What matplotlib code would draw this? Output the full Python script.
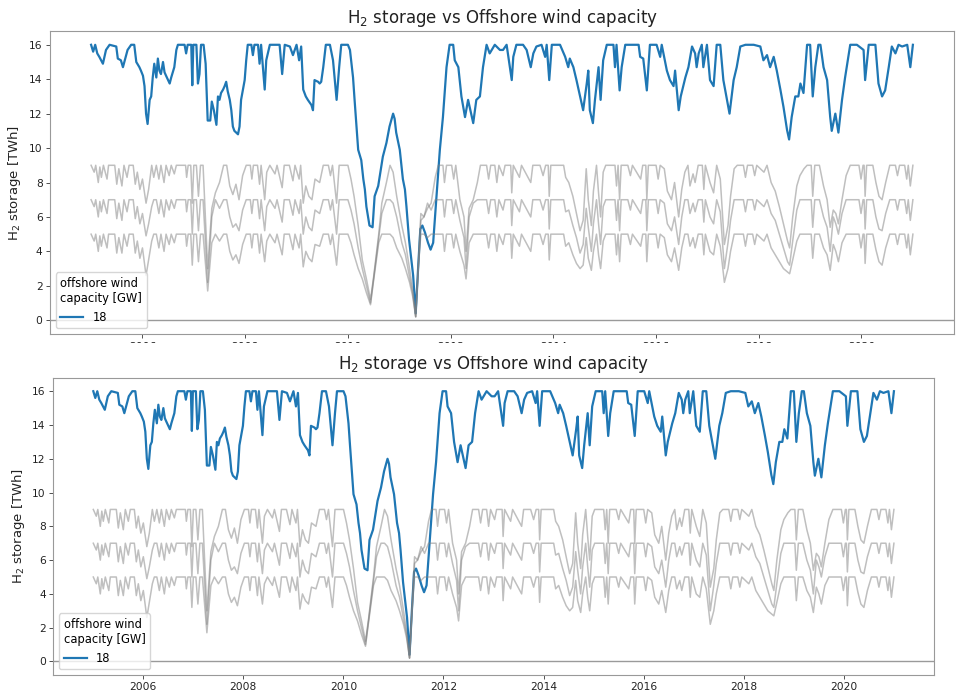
import numpy as np
import pandas as pd
import matplotlib
matplotlib.use("Agg")
import matplotlib.pyplot as plt
import matplotlib.dates as mdates
from matplotlib.patches import Rectangle

# H2 storage level [TWh] of the 18 GW offshore wind case, sampled at decimal years
blue_years = [
    2005.00, 2005.04, 2005.08, 2005.12, 2005.16, 2005.23, 2005.29, 2005.36, 2005.49, 2005.52,
    2005.58, 2005.62, 2005.71, 2005.78, 2005.84, 2005.88, 2005.94, 2005.97, 2006.01, 2006.04,
    2006.07, 2006.10, 2006.14, 2006.17, 2006.20, 2006.23, 2006.27, 2006.30, 2006.33, 2006.36,
    2006.40, 2006.43, 2006.46, 2006.53, 2006.56, 2006.62, 2006.66, 2006.69, 2006.82, 2006.85,
    2006.88, 2006.95, 2006.97, 2006.99, 2007.05, 2007.08, 2007.11, 2007.14, 2007.19, 2007.23,
    2007.27, 2007.32, 2007.35, 2007.39, 2007.44, 2007.47, 2007.50, 2007.53, 2007.57, 2007.60,
    2007.63, 2007.66, 2007.70, 2007.73, 2007.76, 2007.79, 2007.86, 2007.89, 2007.92, 2007.99,
    2008.02, 2008.05, 2008.12, 2008.15, 2008.18, 2008.25, 2008.28, 2008.31, 2008.38, 2008.41,
    2008.48, 2008.67, 2008.72, 2008.77, 2008.87, 2008.93, 2009.00, 2009.05, 2009.09, 2009.13,
    2009.18, 2009.22, 2009.29, 2009.32, 2009.35, 2009.42, 2009.45, 2009.48, 2009.52, 2009.57,
    2009.65, 2009.71, 2009.78, 2009.83, 2009.87, 2010.00, 2010.04, 2010.10, 2010.13, 2010.20,
    2010.23, 2010.26, 2010.30, 2010.33, 2010.36, 2010.42, 2010.48, 2010.52, 2010.59, 2010.68,
    2010.75, 2010.81, 2010.88, 2010.91, 2010.94, 2011.01, 2011.07, 2011.11, 2011.14, 2011.19,
    2011.24, 2011.27, 2011.32, 2011.37, 2011.41, 2011.45, 2011.50, 2011.56, 2011.61, 2011.66,
    2011.72, 2011.79, 2011.85, 2011.92, 2011.98, 2012.05, 2012.08, 2012.15, 2012.21, 2012.28,
    2012.34, 2012.44, 2012.50, 2012.57, 2012.63, 2012.70, 2012.76, 2012.86, 2012.96, 2013.02,
    2013.09, 2013.19, 2013.22, 2013.28, 2013.41, 2013.48, 2013.56, 2013.61, 2013.67, 2013.77,
    2013.84, 2013.87, 2013.92, 2013.97, 2014.13, 2014.23, 2014.29, 2014.32, 2014.39, 2014.45,
    2014.52, 2014.58, 2014.65, 2014.68, 2014.71, 2014.77, 2014.81, 2014.88, 2014.92, 2014.97,
    2015.04, 2015.17, 2015.20, 2015.23, 2015.29, 2015.33, 2015.40, 2015.66, 2015.69, 2015.75,
    2015.82, 2015.88, 2016.01, 2016.08, 2016.11, 2016.21, 2016.27, 2016.34, 2016.37, 2016.44,
    2016.48, 2016.57, 2016.63, 2016.70, 2016.76, 2016.79, 2016.83, 2016.89, 2016.92, 2016.99,
    2017.05, 2017.12, 2017.18, 2017.25, 2017.31, 2017.38, 2017.43, 2017.51, 2017.57, 2017.64,
    2017.74, 2017.90, 2018.03, 2018.09, 2018.16, 2018.22, 2018.29, 2018.35, 2018.42, 2018.48,
    2018.55, 2018.59, 2018.64, 2018.71, 2018.77, 2018.81, 2018.87, 2018.94, 2019.00, 2019.05,
    2019.10, 2019.16, 2019.20, 2019.26, 2019.33, 2019.39, 2019.42, 2019.49, 2019.55, 2019.62,
    2019.68, 2019.78, 2019.91, 2020.04, 2020.07, 2020.14, 2020.27, 2020.33, 2020.40, 2020.46,
    2020.53, 2020.59, 2020.66, 2020.72, 2020.79, 2020.89, 2020.95, 2021.00,
]
blue_storage = [
    16.0, 15.6, 16.0, 15.5, 15.3, 14.9, 15.7, 16.0, 15.9, 15.2,
    15.1, 14.7, 15.7, 16.0, 16.0, 15.0, 14.7, 14.5, 14.2, 13.6,
    12.0, 11.4, 12.8, 13.0, 14.1, 14.9, 14.1, 15.2, 14.5, 14.3,
    15.0, 14.4, 14.2, 13.75, 14.1, 14.7, 15.7, 16.0, 16.0, 15.5,
    16.0, 16.0, 13.65, 16.0, 16.0, 13.75, 14.3, 16.0, 16.0, 14.9,
    11.6, 11.6, 12.7, 12.2, 11.35, 13.0, 12.8, 13.2, 13.4, 13.6,
    13.85, 13.3, 12.8, 12.2, 11.25, 11.0, 10.8, 11.25, 12.8, 13.95,
    15.1, 16.0, 16.0, 15.4, 16.0, 16.0, 14.9, 16.0, 13.4, 15.1,
    16.0, 16.0, 14.3, 16.0, 15.9, 15.4, 16.0, 15.1, 15.9, 13.4,
    13.0, 12.8, 12.5, 12.2, 13.95, 13.85, 13.75, 13.85, 14.7, 16.0,
    16.0, 15.1, 12.8, 14.7, 16.0, 16.0, 15.7, 14.1, 12.8, 9.9,
    9.6, 9.3, 8.2, 7.6, 6.6, 5.5, 5.4, 7.2, 7.8, 9.5,
    10.3, 11.25, 12.0, 11.7, 10.9, 9.9, 8.2, 7.6, 6.6, 4.7,
    3.4, 2.6, 0.4, 3.2, 5.3, 5.5, 5.1, 4.5, 4.1, 4.5,
    7.0, 9.9, 11.8, 14.7, 16.0, 16.0, 15.1, 14.7, 13.0, 11.8,
    12.8, 11.45, 12.8, 13.0, 14.7, 16.0, 15.5, 16.0, 15.7, 15.7,
    16.0, 13.95, 15.3, 16.0, 16.0, 15.7, 14.7, 15.5, 15.9, 16.0,
    15.3, 16.0, 13.95, 16.0, 16.0, 15.3, 14.7, 15.2, 14.7, 13.95,
    13.0, 12.2, 13.75, 14.5, 12.2, 11.45, 12.8, 14.7, 12.8, 15.1,
    16.0, 16.0, 14.7, 16.0, 13.35, 14.7, 16.0, 16.0, 15.3, 15.2,
    13.35, 16.0, 16.0, 15.3, 16.0, 14.5, 13.95, 13.6, 14.5, 12.2,
    13.0, 14.1, 14.7, 15.9, 15.5, 14.7, 15.5, 16.0, 14.7, 16.0,
    13.95, 13.6, 16.0, 16.0, 13.95, 12.8, 12.0, 13.95, 14.7, 15.9,
    16.0, 16.0, 15.9, 15.1, 15.4, 14.7, 15.3, 14.5, 13.4, 12.4,
    11.05, 10.5, 11.8, 13.0, 13.0, 13.75, 13.2, 16.0, 16.0, 13.0,
    14.7, 16.0, 16.0, 14.7, 13.95, 11.8, 11.0, 12.0, 10.9, 12.8,
    14.1, 16.0, 16.0, 15.7, 13.95, 16.0, 16.0, 13.75, 13.0, 13.35,
    14.7, 15.9, 15.5, 16.0, 15.9, 16.0, 14.7, 16.0,
]

# storage levels of the other capacity cases (9, 7 and 5 TWh caps), shared time axis
gray_years = [
    2005.00, 2005.06, 2005.09, 2005.14, 2005.17, 2005.20, 2005.24, 2005.31, 2005.34, 2005.46,
    2005.50, 2005.54, 2005.60, 2005.64, 2005.70, 2005.74, 2005.82, 2005.86, 2005.90, 2005.95,
    2006.00, 2006.07, 2006.12, 2006.18, 2006.22, 2006.27, 2006.32, 2006.36, 2006.42, 2006.46,
    2006.52, 2006.56, 2006.62, 2006.66, 2006.84, 2006.86, 2006.89, 2006.94, 2006.97, 2007.00,
    2007.05, 2007.09, 2007.13, 2007.18, 2007.27, 2007.35, 2007.42, 2007.50, 2007.58, 2007.64,
    2007.70, 2007.76, 2007.82, 2007.88, 2007.95, 2008.02, 2008.10, 2008.13, 2008.16, 2008.24,
    2008.28, 2008.31, 2008.38, 2008.42, 2008.48, 2008.58, 2008.62, 2008.72, 2008.76, 2008.86,
    2008.93, 2008.97, 2009.05, 2009.08, 2009.13, 2009.18, 2009.24, 2009.30, 2009.36, 2009.45,
    2009.52, 2009.62, 2009.66, 2009.70, 2009.78, 2009.83, 2010.00, 2010.06, 2010.12, 2010.20,
    2010.28, 2010.36, 2010.44, 2010.50, 2010.60, 2010.66, 2010.75, 2010.82, 2010.88, 2010.95,
    2011.05, 2011.12, 2011.20, 2011.26, 2011.32, 2011.37, 2011.42, 2011.48, 2011.55, 2011.62,
    2011.70, 2011.76, 2011.85, 2011.88, 2011.92, 2012.02, 2012.06, 2012.10, 2012.18, 2012.26,
    2012.30, 2012.36, 2012.44, 2012.52, 2012.58, 2012.70, 2012.74, 2012.78, 2012.86, 2012.90,
    2012.94, 2013.02, 2013.06, 2013.17, 2013.19, 2013.22, 2013.34, 2013.38, 2013.56, 2013.60,
    2013.74, 2013.80, 2013.85, 2013.90, 2013.92, 2013.95, 2014.20, 2014.24, 2014.30, 2014.38,
    2014.45, 2014.52, 2014.58, 2014.64, 2014.68, 2014.74, 2014.78, 2014.84, 2014.88, 2014.92,
    2014.97, 2015.02, 2015.20, 2015.23, 2015.26, 2015.29, 2015.32, 2015.45, 2015.50, 2015.54,
    2015.70, 2015.74, 2015.80, 2015.82, 2015.85, 2016.00, 2016.04, 2016.08, 2016.16, 2016.22,
    2016.30, 2016.36, 2016.44, 2016.50, 2016.56, 2016.62, 2016.66, 2016.72, 2016.76, 2016.82,
    2016.90, 2016.93, 2016.96, 2017.05, 2017.12, 2017.18, 2017.25, 2017.33, 2017.40, 2017.45,
    2017.52, 2017.58, 2017.70, 2017.74, 2017.78, 2017.88, 2017.92, 2017.96, 2018.10, 2018.16,
    2018.24, 2018.32, 2018.40, 2018.48, 2018.56, 2018.60, 2018.66, 2018.74, 2018.80, 2018.88,
    2018.94, 2019.02, 2019.05, 2019.09, 2019.18, 2019.26, 2019.33, 2019.39, 2019.45, 2019.50,
    2019.55, 2019.62, 2019.70, 2019.78, 2019.95, 2019.99, 2020.03, 2020.05, 2020.07, 2020.10,
    2020.22, 2020.28, 2020.34, 2020.40, 2020.47, 2020.55, 2020.66, 2020.70, 2020.74, 2020.84,
    2020.88, 2020.91, 2020.95, 2021.00,
]
gray_cap9 = [
    9.0, 8.6, 9.0, 8.0, 8.9, 8.3, 9.0, 8.2, 9.0, 9.0,
    7.9, 8.8, 7.8, 9.0, 8.3, 9.0, 9.0, 7.9, 8.6, 7.6,
    8.2, 6.8, 7.6, 9.0, 8.3, 9.0, 8.2, 9.0, 8.0, 9.0,
    8.4, 9.0, 8.5, 9.0, 9.0, 8.3, 9.0, 9.0, 6.8, 9.0,
    9.0, 7.2, 9.0, 9.0, 3.0, 6.5, 7.4, 8.0, 9.0, 9.0,
    7.8, 7.3, 7.9, 7.0, 8.4, 9.0, 9.0, 8.2, 9.0, 9.0,
    7.9, 9.0, 7.0, 8.6, 9.0, 8.5, 9.0, 7.7, 9.0, 9.0,
    8.1, 9.0, 8.2, 9.0, 6.8, 7.8, 7.2, 7.0, 8.2, 8.0,
    9.0, 9.0, 8.4, 9.0, 6.8, 9.0, 9.0, 8.2, 7.2, 5.5,
    3.5, 2.4, 1.2, 2.5, 5.0, 6.8, 8.0, 9.0, 8.6, 7.2,
    5.5, 4.5, 3.0, 1.8, 0.2, 3.0, 5.8, 6.0, 6.5, 6.8,
    8.3, 9.0, 9.0, 8.0, 9.0, 9.0, 8.2, 9.0, 7.0, 6.0,
    4.0, 6.5, 7.0, 8.0, 9.0, 9.0, 8.2, 9.0, 9.0, 8.0,
    9.0, 8.4, 9.0, 9.0, 7.4, 9.0, 8.3, 9.0, 8.0, 9.0,
    9.0, 8.4, 9.0, 9.0, 7.2, 9.0, 9.0, 8.3, 8.0, 7.2,
    6.2, 5.2, 5.8, 8.8, 7.0, 5.5, 7.5, 9.0, 7.4, 6.0,
    8.6, 9.0, 9.0, 7.8, 9.0, 7.0, 9.0, 9.0, 8.4, 9.0,
    8.2, 9.0, 9.0, 7.0, 9.0, 9.0, 8.2, 9.0, 8.8, 7.5,
    7.0, 8.0, 6.0, 7.6, 8.6, 9.0, 7.8, 8.5, 8.0, 9.0,
    9.0, 7.6, 9.0, 8.0, 7.4, 9.0, 8.2, 4.4, 5.5, 7.2,
    8.8, 9.0, 9.0, 8.3, 9.0, 9.0, 8.4, 9.0, 8.6, 9.0,
    8.0, 7.5, 6.6, 5.6, 4.6, 4.2, 6.0, 7.8, 8.4, 8.8,
    9.0, 9.0, 7.2, 9.0, 9.0, 7.8, 7.0, 5.4, 6.4, 6.2,
    5.6, 7.0, 8.4, 9.0, 9.0, 8.2, 9.0, 9.0, 7.2, 9.0,
    9.0, 8.0, 7.2, 7.0, 8.0, 9.0, 9.0, 8.4, 9.0, 9.0,
    8.2, 9.0, 7.8, 9.0,
]
gray_cap7 = [
    7.0, 6.6, 7.0, 6.0, 6.9, 6.3, 7.0, 6.2, 7.0, 7.0,
    5.9, 6.8, 5.8, 7.0, 6.3, 7.0, 7.0, 5.9, 6.6, 5.6,
    6.2, 4.9, 5.6, 6.6, 7.0, 7.0, 6.2, 7.0, 6.0, 7.0,
    6.4, 7.0, 6.5, 7.0, 7.0, 6.3, 7.0, 7.0, 5.0, 7.0,
    7.0, 5.2, 7.0, 7.0, 2.2, 6.0, 7.0, 6.5, 7.0, 7.0,
    6.0, 5.4, 5.6, 5.2, 6.4, 7.0, 7.0, 6.2, 7.0, 7.0,
    5.9, 7.0, 5.2, 6.6, 7.0, 6.5, 7.0, 5.7, 7.0, 7.0,
    6.1, 7.0, 6.2, 7.0, 5.0, 6.0, 5.4, 5.2, 6.4, 6.2,
    7.0, 7.0, 6.4, 7.0, 5.0, 7.0, 7.0, 6.4, 5.6, 4.2,
    3.0, 2.0, 1.0, 2.4, 4.8, 6.2, 7.0, 7.0, 6.8, 6.0,
    4.5, 3.8, 2.5, 1.6, 0.2, 3.2, 6.2, 6.0, 6.8, 6.4,
    7.0, 7.0, 7.0, 6.0, 7.0, 7.0, 6.2, 7.0, 5.8, 4.8,
    3.0, 6.0, 6.8, 7.0, 7.0, 7.0, 6.2, 7.0, 7.0, 6.0,
    7.0, 6.4, 7.0, 7.0, 5.5, 7.0, 6.3, 7.0, 6.0, 7.0,
    7.0, 6.4, 7.0, 7.0, 5.3, 7.0, 7.0, 6.3, 6.4, 5.5,
    4.8, 3.9, 4.4, 6.5, 5.4, 4.0, 5.6, 7.0, 5.6, 4.4,
    6.6, 7.0, 7.0, 5.8, 7.0, 5.2, 7.0, 7.0, 6.4, 7.0,
    6.2, 7.0, 7.0, 5.2, 7.0, 7.0, 6.2, 7.0, 6.8, 5.6,
    5.2, 6.0, 4.4, 6.0, 7.0, 7.0, 6.2, 6.8, 6.3, 7.0,
    7.0, 5.7, 7.0, 6.0, 5.6, 7.0, 6.3, 3.0, 4.5, 5.8,
    7.0, 7.0, 7.0, 6.3, 7.0, 7.0, 6.4, 7.0, 6.6, 7.0,
    6.2, 5.8, 5.0, 4.2, 3.4, 3.2, 4.6, 6.4, 7.0, 7.0,
    7.0, 7.0, 5.4, 7.0, 7.0, 6.0, 5.4, 4.0, 6.0, 5.6,
    5.0, 6.2, 7.0, 7.0, 7.0, 6.2, 7.0, 7.0, 5.3, 7.0,
    7.0, 6.0, 5.3, 5.2, 6.2, 7.0, 7.0, 6.4, 7.0, 7.0,
    6.2, 7.0, 5.8, 7.0,
]
gray_cap5 = [
    5.0, 4.6, 5.0, 4.0, 4.9, 4.3, 5.0, 4.2, 5.0, 5.0,
    3.9, 4.8, 3.9, 5.0, 4.3, 5.0, 5.0, 3.9, 4.6, 3.6,
    4.2, 2.6, 3.5, 4.6, 5.0, 5.0, 4.2, 5.0, 4.0, 5.0,
    4.4, 5.0, 4.5, 5.0, 5.0, 4.3, 5.0, 5.0, 3.2, 5.0,
    5.0, 3.4, 5.0, 5.0, 1.7, 4.5, 5.0, 4.6, 5.0, 5.0,
    4.0, 3.5, 3.8, 3.3, 4.4, 5.0, 5.0, 4.2, 5.0, 5.0,
    3.9, 5.0, 3.4, 4.6, 5.0, 4.5, 5.0, 3.8, 5.0, 5.0,
    4.1, 5.0, 4.2, 5.0, 3.1, 4.0, 3.6, 3.4, 4.4, 4.3,
    5.0, 5.0, 4.4, 5.0, 3.2, 5.0, 5.0, 4.5, 3.8, 3.0,
    2.4, 1.6, 0.9, 2.3, 4.5, 5.0, 5.0, 5.0, 4.8, 4.2,
    3.6, 3.0, 2.2, 1.4, 0.2, 3.0, 5.0, 5.0, 4.8, 5.0,
    5.0, 5.0, 5.0, 4.0, 5.0, 5.0, 4.2, 5.0, 4.0, 3.2,
    2.4, 4.5, 5.0, 5.0, 5.0, 5.0, 4.2, 5.0, 5.0, 4.0,
    5.0, 4.4, 5.0, 5.0, 3.6, 5.0, 4.3, 5.0, 4.0, 5.0,
    5.0, 4.4, 5.0, 5.0, 3.5, 5.0, 5.0, 4.3, 4.5, 3.8,
    3.3, 3.0, 3.2, 4.8, 3.6, 2.9, 4.0, 5.0, 3.8, 3.0,
    4.6, 5.0, 5.0, 3.8, 5.0, 3.4, 5.0, 5.0, 4.4, 5.0,
    4.3, 5.0, 5.0, 3.4, 5.0, 5.0, 4.2, 5.0, 4.8, 3.8,
    3.4, 4.2, 2.9, 4.2, 5.0, 5.0, 4.3, 4.8, 4.2, 5.0,
    5.0, 3.8, 5.0, 4.0, 3.8, 5.0, 4.3, 2.2, 3.0, 4.0,
    5.0, 5.0, 5.0, 4.3, 5.0, 5.0, 4.4, 5.0, 4.6, 5.0,
    4.2, 3.8, 3.4, 3.0, 2.8, 2.7, 3.5, 4.6, 5.0, 5.0,
    5.0, 5.0, 3.6, 5.0, 5.0, 4.2, 3.8, 2.9, 4.4, 4.0,
    3.4, 4.5, 5.0, 5.0, 5.0, 4.2, 5.0, 5.0, 3.3, 5.0,
    5.0, 4.1, 3.4, 3.2, 4.2, 5.0, 5.0, 4.4, 5.0, 5.0,
    4.2, 5.0, 3.8, 5.0,
]

capacity_label = "18"
title_text = "H$_2$ storage vs Offshore wind capacity"
ylabel_text = "H$_2$ storage [TWh]"
legend_title = "offshore wind\ncapacity [GW]"
year_ticks = list(range(2006, 2021, 2))


def to_dates(years):
    years = np.asarray(years, dtype=float)
    return pd.Timestamp("2005-01-01") + pd.to_timedelta((years - 2005.0) * 365.25, unit="D")


blue_dates = to_dates(blue_years)
gray_dates = to_dates(gray_years)


def draw_panel(ax):
    ax.plot(blue_dates, blue_storage, color="#1f77b4", lw=1.6, label=capacity_label)
    for vals in (gray_cap9, gray_cap7, gray_cap5):
        ax.plot(gray_dates, vals, color="grey", alpha=0.5, lw=1.1, label="_nolegend_")
    ax.axhline(0, color="#9a9a9a", lw=1.0)

    ax.set_ylim(-0.8, 16.8)
    ax.set_yticks(range(0, 17, 2))
    ax.set_xlim(to_dates([2004.2])[0], to_dates([2021.8])[0])
    ax.set_xticks(pd.to_datetime([f"{y}-01-01" for y in year_ticks]))
    ax.xaxis.set_major_formatter(mdates.DateFormatter("%Y"))

    ax.set_title(title_text, fontsize=12, color="#222222")
    ax.set_ylabel(ylabel_text, fontsize=9.5, color="#222222")
    ax.tick_params(labelsize=7.7, length=2.7, width=0.6, pad=2.7,
                   colors="#333333", labelcolor="#222222")
    for sp in ax.spines.values():
        sp.set_color("#999999")
        sp.set_linewidth(0.8)

    leg = ax.legend(loc="lower left", title=legend_title, fontsize=8.3,
                    title_fontsize=8.3, borderaxespad=0.5)
    leg._legend_box.align = "left"


fig = plt.figure(figsize=(9.58, 6.97), dpi=100)
ax_top = fig.add_axes([0.0522, 0.5208, 0.9436, 0.4347])
ax_bot = fig.add_axes([0.0556, 0.0316, 0.9193, 0.4265])
draw_panel(ax_top)
draw_panel(ax_bot)

# the lower panel sits over the year labels of the upper one
fig.add_artist(Rectangle((0, (697 - 356) / 697), 1, 13 / 697, transform=fig.transFigure,
                         facecolor="white", edgecolor="none", zorder=10))

fig.savefig("out.png", dpi=100)
